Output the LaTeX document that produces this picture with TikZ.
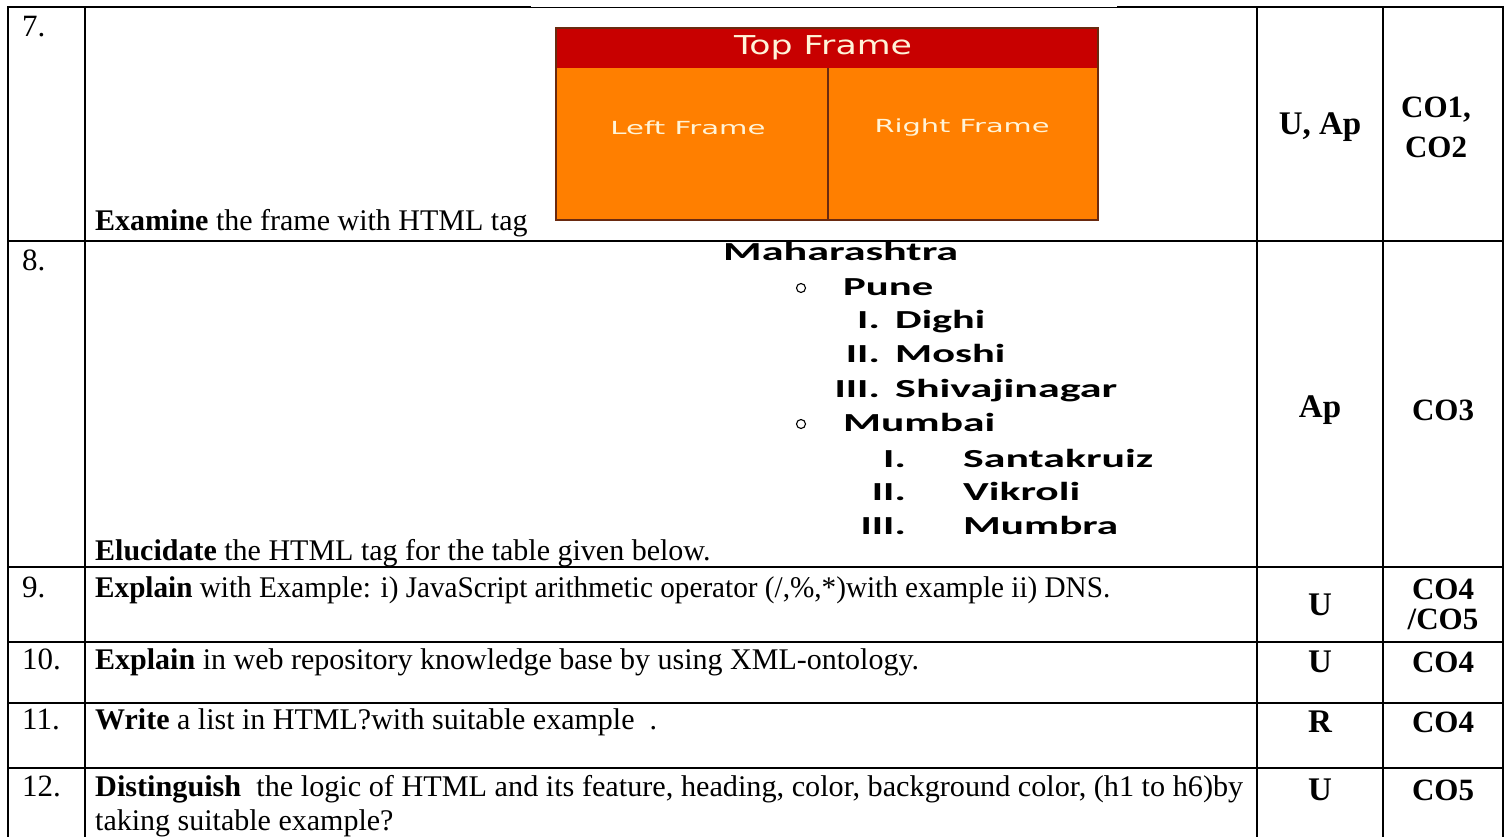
\documentclass[tikz,border=0pt]{standalone}
\usepackage{fontspec}
\setmainfont{Liberation Serif}
\newfontfamily\calfont{Carlito}
\newfontfamily\dvfont{DejaVu Sans}
\usepackage{graphicx}
\newcommand{\fw}[2]{\resizebox{#1}{\height}{#2}}
\newcommand{\sx}[1]{\scalebox{1.63}[1]{#1}}
\definecolor{framered}{HTML}{C80000}
\definecolor{frameorange}{HTML}{FF7F00}
\definecolor{framebrd}{HTML}{6A2A10}
\definecolor{framefont}{HTML}{FFF4D8}
\begin{document}
\begin{tikzpicture}[x=1pt,y=-1pt,
  rule/.style={line width=2pt, line cap=rect},
  txt/.style={anchor=base west, inner sep=0pt, font=\fontsize{30}{34}\selectfont},
  numtxt/.style={anchor=base west, inner sep=0pt, font=\fontsize{31}{34}\selectfont},
  bmk/.style={inner sep=0pt, font=\bfseries\fontsize{33}{36}\selectfont, align=center},
  cmk/.style={bmk, font=\bfseries\fontsize{31}{34}\selectfont},
  lst/.style={anchor=base west, inner sep=0pt, font=\calfont\bfseries\fontsize{26}{30}\selectfont},
  lstr/.style={lst, anchor=base east},
  ftxt/.style={inner sep=0pt, text=framefont, font=\dvfont\fontsize{18}{20}\selectfont},
  bullet/.style={draw=black, line width=1.1pt, circle, minimum size=9pt, inner sep=0pt}
  ]
\useasboundingbox (0,0) rectangle (1511,837);
\fill[white] (0,0) rectangle (1511,837);

% ---------- frame picture (row 7)
\fill[framered] (556,28) rectangle (1098,68);
\fill[frameorange] (556,68) rectangle (1098,220);
\draw[framebrd, line width=1.5pt] (556,28) rectangle (1098,220);
\draw[framebrd, line width=1.5pt] (828,68) -- (828,220);
\node[ftxt, font=\dvfont\fontsize{26}{28}\selectfont] (topf) at (823,48) {\fw{178pt}{Top Frame}};
\node[ftxt] (leftf) at (688,128) {\fw{155pt}{Left Frame}};
\node[ftxt] (rightf) at (962,128) {\fw{175pt}{Right Frame}};

% ---------- table rules
\draw[rule] (8,7) -- (530,7);
\draw[line width=0.8pt] (530,7) -- (1118,7);
\draw[rule] (1118,7) -- (1503,7);
\foreach \yy in {241,567,642,703,768}
  \draw[rule] (8,\yy) -- (1503,\yy);
\foreach \xx in {8,85,1257,1383,1503}
  \draw[rule] (\xx,7) -- (\xx,837);

% ---------- row numbers
\node[numtxt] (n7) at (22,37) {7.};
\node[numtxt] (n8) at (22,270) {8.};
\node[numtxt] (n9) at (22,597) {9.};
\node[numtxt] (n10) at (22,669) {10.};
\node[numtxt] (n11) at (22,729) {11.};
\node[numtxt] (n12) at (22,796) {12.};

% ---------- questions
\node[txt] (q7) at (95,230) {\textbf{Examine} the frame with HTML tag};
\node[txt] (q8) at (95,560) {\textbf{Elucidate} the HTML tag for the table given below.};
\node[txt] (q9) at (95,597) {\fw{1015pt}{\textbf{Explain} with Example: i) JavaScript arithmetic operator (/,\%,*)with example ii) DNS.}};
\node[txt] (q10) at (95,669) {\textbf{Explain} in web repository knowledge base by using XML-ontology.};
\node[txt] (q11) at (95,729) {\textbf{Write} a list in HTML?with suitable example\ \ .};
\node[txt] (q12) at (95,796) {\fw{1148pt}{\textbf{Distinguish}\ \ the logic of HTML and its feature, heading, color, background color, (h1 to h6)by}};
\node[txt] (q12b) at (95,830) {taking suitable example?};

% ---------- level / CO columns
\node[bmk] (l7) at (1320,127) {U, Ap};
\node[cmk] (c7a) at (1436,110) {CO1,};
\node[cmk] (c7b) at (1436,147) {CO2};
\node[bmk] (l8) at (1320,410) {Ap};
\node[cmk] (c8) at (1443,410) {CO3};
\node[bmk] (l9) at (1320,605) {U};
\node[cmk] (c9a) at (1443,589) {CO4};
\node[cmk] (c9b) at (1443,619) {/CO5};
\node[bmk] (l10) at (1320,662) {U};
\node[cmk] (c10) at (1443,662) {CO4};
\node[bmk] (l11) at (1320,722) {R};
\node[cmk] (c11) at (1443,722) {CO4};
\node[bmk] (l12) at (1320,790) {U};
\node[cmk] (c12) at (1443,790) {CO5};

% ---------- nested list picture (row 8)
\node[lst] (mh) at (723,260) {\fw{235pt}{Maharashtra}};
\node[bullet] (b1) at (801,288) {};
\node[lst] (pune) at (843,295) {\fw{90pt}{Pune}};
\node[lstr] (r1) at (880,328) {\sx{I.}};
\node[lst] (dighi) at (895,328) {\fw{90pt}{Dighi}};
\node[lstr] (r2) at (880,362) {\sx{II.}};
\node[lst] (moshi) at (895,362) {\fw{110pt}{Moshi}};
\node[lstr] (r3) at (880,397) {\sx{III.}};
\node[lst] (shiva) at (895,397) {\fw{222pt}{Shivajinagar}};
\node[bullet] (b2) at (801,424) {};
\node[lst] (mumbai) at (843,431) {\fw{152pt}{Mumbai}};
\node[lstr] (r4) at (906,467) {\sx{I.}};
\node[lst] (santa) at (963,467) {\fw{190pt}{Santakruiz}};
\node[lstr] (r5) at (906,500) {\sx{II.}};
\node[lst] (vik) at (963,500) {\fw{117pt}{Vikroli}};
\node[lstr] (r6) at (906,534) {\sx{III.}};
\node[lst] (mumbra) at (963,534) {\fw{155pt}{Mumbra}};
\end{tikzpicture}
\end{document}
